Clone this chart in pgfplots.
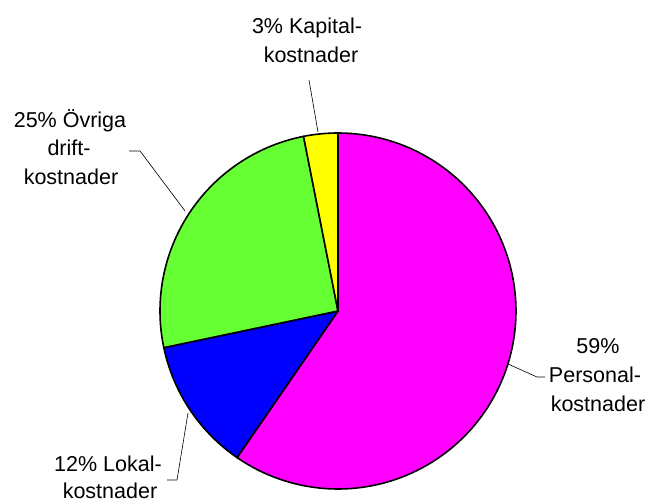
\documentclass[border=0pt]{standalone}
\usepackage{pgfplots}
\pgfplotsset{compat=1.18}
\usepackage{fontspec}
\setmainfont{Liberation Sans}
\definecolor{cPers}{HTML}{FF00FF}
\definecolor{cLok}{HTML}{0000FF}
\definecolor{cOvr}{HTML}{66FF33}
\definecolor{cKap}{HTML}{FFFF00}
% shares (percent), clockwise from 12 o'clock
\def\pPers{59.6}\def\pLok{12.1}\def\pOvr{25.2}\def\pKap{3.1}
\pgfmathsetmacro\aA{90}
\pgfmathsetmacro\aB{90-3.6*\pPers}
\pgfmathsetmacro\aC{\aB-3.6*\pLok}
\pgfmathsetmacro\aD{\aC-3.6*\pOvr}
\pgfmathsetmacro\aE{\aD-3.6*\pKap}
\begin{document}
\begin{tikzpicture}
\useasboundingbox (0,0) rectangle (648bp,500bp);
\begin{axis}[
  x=1bp, y=1bp, xmin=0, xmax=648, ymin=0, ymax=500,
  anchor=origin, at={(0,0)},
  hide axis, clip=false, enlargelimits=false,
  every axis plot/.append style={line join=round},
]
\addplot[fill=cPers, draw=black, line width=1.6bp, domain=\aB:\aA, samples=150, variable=\t] ({338+178*cos(t)},{189+178*sin(t)}) -- (axis cs:338,189) -- cycle;
\addplot[fill=cLok, draw=black, line width=1.6bp, domain=\aC:\aB, samples=40, variable=\t] ({338+178*cos(t)},{189+178*sin(t)}) -- (axis cs:338,189) -- cycle;
\addplot[fill=cOvr, draw=black, line width=1.6bp, domain=\aD:\aC, samples=80, variable=\t] ({338+178*cos(t)},{189+178*sin(t)}) -- (axis cs:338,189) -- cycle;
\addplot[fill=cKap, draw=black, line width=1.6bp, domain=\aE:\aD, samples=10, variable=\t] ({338+178*cos(t)},{189+178*sin(t)}) -- (axis cs:338,189) -- cycle;
% leader lines
\addplot[black, line width=0.6bp, mark=none] coordinates {(309,420) (318,368)};
\addplot[black, line width=0.6bp, mark=none] coordinates {(129,349) (140,349) (185,289)};
\addplot[black, line width=0.6bp, mark=none] coordinates {(508,136) (537,123) (545,123)};
\addplot[black, line width=0.6bp, mark=none] coordinates {(188,87) (177,20) (167,20)};
% labels
\begin{scope}[every node/.style={inner sep=0pt, anchor=base, font=\fontsize{21.5bp}{25bp}\selectfont}]
\node at (axis cs:307,466) {3\% Kapital-};
\node at (axis cs:311,437) {kostnader};
\node at (axis cs:70,372) {25\% Övriga};
\node at (axis cs:69,344) {drift-};
\node at (axis cs:71,315) {kostnader};
\node at (axis cs:598,146) {59\%};
\node at (axis cs:595,117) {Personal-};
\node at (axis cs:598,88) {kostnader};
\node at (axis cs:108,28) {12\% Lokal-};
\node at (axis cs:110,1) {kostnader};
\end{scope}
\end{axis}
\end{tikzpicture}
\end{document}
